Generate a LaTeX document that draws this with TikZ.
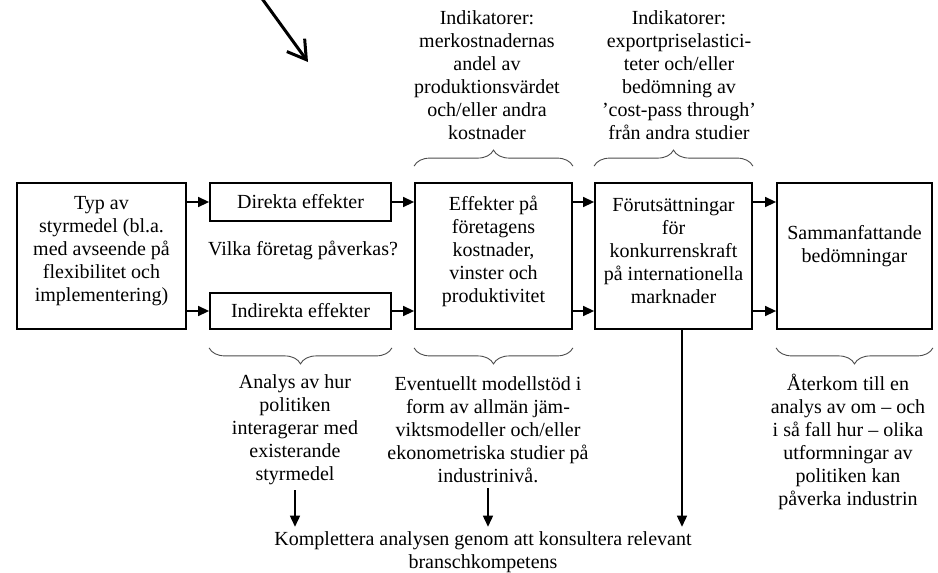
\documentclass[tikz,border=0pt]{standalone}
\usepackage{fontspec}
\setmainfont{Liberation Serif}
\usetikzlibrary{arrows.meta,decorations.pathreplacing}
\begin{document}
\begin{tikzpicture}[x=1pt,y=-1pt,
  box/.style={draw,line width=1.8pt,inner sep=0pt,font=\fontsize{20}{23}\selectfont},
  txt/.style={align=center,inner sep=0pt,font=\fontsize{20}{23}\selectfont},
  arr/.style={line width=1.4pt,-{Triangle[length=11pt,width=10pt]}},
  brc/.style={decorate,decoration={brace,amplitude=16pt},line width=0.9pt,black!70}]
  \useasboundingbox (0,0) rectangle (938,573);
  \node[box,minimum width=169pt,minimum height=146pt] (typ) at (101.5,256) {};
  \node[box,minimum width=181pt,minimum height=38pt] (dir) at (300.5,202) {Direkta effekter};
  \node[box,minimum width=181pt,minimum height=36pt] (ind) at (300.5,311) {Indirekta effekter};
  \node[box,minimum width=157pt,minimum height=146pt] (eff) at (493.5,256) {};
  \node[box,minimum width=157pt,minimum height=146pt] (forut) at (673.5,256) {};
  \node[box,minimum width=155pt,minimum height=146pt] (samm) at (854.5,256) {};
  \node[txt] (typtxt) at (101.5,251) {Typ av\\styrmedel (bl.a.\\med avseende på\\flexibilitet och\\implementering)};
  \node[txt] (vilka) at (303,250) {Vilka företag påverkas?};
  \node[txt] (efftxt) at (493.5,251) {Effekter på\\företagens\\kostnader,\\vinster och\\produktivitet};
  \node[txt] (foruttxt) at (673.5,251) {Förutsättningar\\för\\konkurrenskraft\\på internationella\\marknader};
  \node[txt] (sammtxt) at (854.5,246.5) {Sammanfattande\\bedömningar};
  \node[txt] (indik1) at (487,75.5) {Indikatorer:\\merkostnadernas\\andel av\\produktionsvärdet\\och/eller andra\\kostnader};
  \node[txt] (indik2) at (679,75.5) {Indikatorer:\\exportpriselastici-\\teter och/eller\\bedömning av\\’cost-pass through’\\från andra studier};
  \node[txt] (analys) at (295,430) {Analys av hur\\politiken\\interagerar med\\existerande\\styrmedel};
  \node[txt] (modell) at (488,430) {Eventuellt modellstöd i\\form av allmän jäm-\\viktsmodeller och/eller\\ekonometriska studier på\\industrinivå.};
  \node[txt] (aterkom) at (848,441.5) {Återkom till en\\analys av om – och\\i så fall hur – olika\\utformningar av\\politiken kan\\påverka industrin};
  \node[txt] (komp) at (483,552.5) {Komplettera analysen genom att konsultera relevant\\branschkompetens};
  \coordinate (fdown) at ([xshift=8.5pt]forut.south);
  \coordinate (pstart) at (258.9,-5.7);
  \coordinate (pend) at (308,62);
  \draw[arr] (typ.east |- dir) -- (dir.west);
  \draw[arr] (typ.east |- ind) -- (ind.west);
  \draw[arr] (dir.east) -- (eff.west |- dir);
  \draw[arr] (ind.east) -- (eff.west |- ind);
  \draw[arr] (eff.east |- dir) -- (forut.west |- dir);
  \draw[arr] (eff.east |- ind) -- (forut.west |- ind);
  \draw[arr] (forut.east |- dir) -- (samm.west |- dir);
  \draw[arr] (forut.east |- ind) -- (samm.west |- ind);
  \draw[arr,shorten <=5pt,shorten >=5pt] (analys.south) -- (analys.south |- komp.north);
  \draw[arr,shorten <=5pt,shorten >=5pt] (modell.south) -- (modell.south |- komp.north);
  \draw[arr,shorten >=5pt] (fdown) -- (fdown |- komp.north);
  \draw[line width=3pt,line cap=round,-{Straight Barb[length=18pt,width=22pt]}] (pstart) -- (pend);
  \draw[brc] ([yshift=16pt]eff.north west) -- ([yshift=16pt]eff.north east);
  \draw[brc] ([yshift=16pt]forut.north west) -- ([yshift=16pt]forut.north east);
  \draw[brc] ([yshift=-18pt]ind.south east) -- ([yshift=-18pt]ind.south west);
  \draw[brc] ([yshift=-18pt]eff.south east) -- ([yshift=-18pt]eff.south west);
  \draw[brc] ([yshift=-18pt]samm.south east) -- ([yshift=-18pt]samm.south west);
\end{tikzpicture}
\end{document}
